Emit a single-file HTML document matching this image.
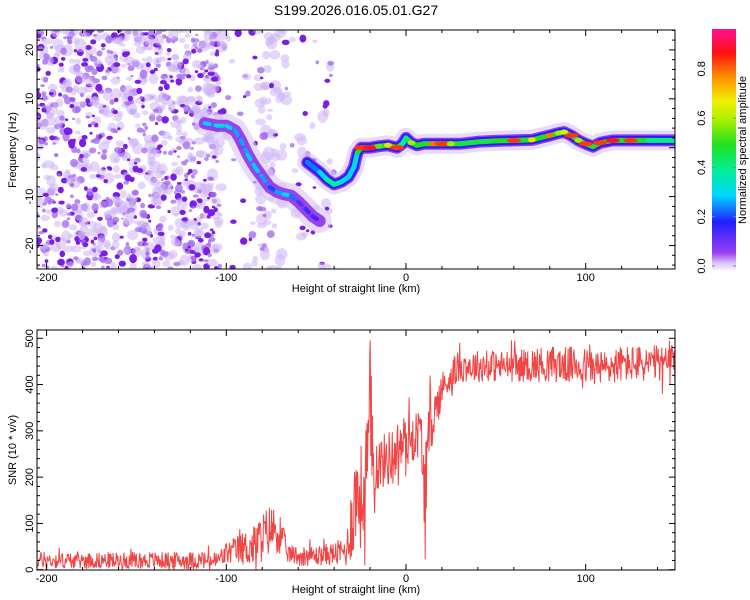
<!DOCTYPE html>
<html><head><meta charset="utf-8">
<style>
html,body{margin:0;padding:0;background:#fff;}
svg{display:block;font-family:"Liberation Sans",sans-serif;}
</style></head>
<body>
<svg id="chart" width="750" height="600" viewBox="0 0 750 600">
<defs>
<clipPath id="clipTop"><rect x="37" y="30" width="638" height="239"/></clipPath>
<clipPath id="clipBot"><rect x="37" y="330" width="638" height="240"/></clipPath>
<linearGradient id="cbGrad" x1="0" y1="1" x2="0" y2="0">
<stop offset="0" stop-color="#f6f0fd"/><stop offset="0.03" stop-color="#d8c0f8"/>
<stop offset="0.07" stop-color="#9a40f0"/><stop offset="0.2" stop-color="#2020ff"/>
<stop offset="0.31" stop-color="#00d8ff"/><stop offset="0.42" stop-color="#00f090"/>
<stop offset="0.52" stop-color="#20e020"/><stop offset="0.62" stop-color="#a8f000"/>
<stop offset="0.7" stop-color="#f0f000"/><stop offset="0.8" stop-color="#ff9000"/>
<stop offset="0.9" stop-color="#ff1010"/><stop offset="1" stop-color="#ff1090"/>
</linearGradient>
</defs>
<text x="356" y="15" font-size="14" text-anchor="middle" fill="#000">S199.2026.016.05.01.G27</text>
<g id="topPlot">
<g id="noise" clip-path="url(#clipTop)"></g>
<g id="ridge" clip-path="url(#clipTop)"></g>
<g id="topAxes"></g>
<rect x="37" y="30" width="638" height="239" fill="none" stroke="#000" stroke-width="1"/>
<text x="0" y="0" transform="translate(16,150) rotate(-90)" font-size="11" text-anchor="middle">Frequency (Hz)</text>
<text x="356" y="292" font-size="11" text-anchor="middle">Height of straight line (km)</text>
</g>
<g id="botPlot">
<g id="snrLine" clip-path="url(#clipBot)"></g>
<g id="botAxes"></g>
<rect x="37" y="330" width="638" height="240" fill="none" stroke="#000" stroke-width="1"/>
<text x="0" y="0" transform="translate(16,450) rotate(-90)" font-size="11" text-anchor="middle">SNR (10 * v/v)</text>
<text x="356" y="593" font-size="11" text-anchor="middle">Height of straight line (km)</text>
</g>
<g id="colorbar">
<rect x="712" y="29" width="24" height="241" fill="url(#cbGrad)"/>
<g id="cbTicks"></g>
<text x="0" y="0" transform="translate(746,150) rotate(-90)" font-size="11" text-anchor="middle">Normalized spectral amplitude</text>
</g>
</svg>
<script>
// ---- data ----
const ridgeAKm  = [-112,-105,-100,-95,-92,-88,-84,-80,-76,-72,-68,-64,-60,-56,-52,-48];
const ridgeAHz  = [5,4.5,4.5,3.5,1.6,-1.5,-4,-6,-8,-9,-9.5,-9.8,-11,-12.5,-14,-15];
const ridgeAAmp = [0.25,0.3,0.3,0.3,0.2,0.3,0.25,0.3,0.2,0.2,0.3,0.3,0.15,0.1,0.2,0.1];
const ridgeBKm  = [-55,-48,-44,-40,-36,-32,-29,-27,-25,-20,-15,-10,-5,-2,0,3,6,10,15,20,25,30,40,50,60,70,80,85,88,92,96,100,104,108,115,125,135,150];
const ridgeBHz  = [-3,-5,-6.5,-7.5,-7,-6,-4,-1,0,0,0.3,0.5,0,0.8,2,1,0.5,0.8,0.8,0.8,0.8,0.8,1.2,1.4,1.5,1.6,2.5,3,3.2,2.5,1.5,0.8,0.2,1,1.5,1.5,1.5,1.5];
const ridgeBAmp = [0.2,0.3,0.35,0.45,0.35,0.35,0.3,0.35,0.85,0.9,0.55,0.7,0.85,0.5,0.3,0.6,0.5,0.5,0.8,0.85,0.6,0.5,0.45,0.5,0.85,0.7,0.8,0.6,0.65,0.85,0.6,0.85,0.5,0.85,0.9,0.85,0.45,0.4];
const snrKm     = [-205,-150,-105,-100,-92,-85,-80,-75,-70,-66,-60,-50,-40,-33,-30,-27,-24,-21,-20,-19,-18,-15,-10,-5,0,5,8,11,13,16,20,25,30,40,60,80,100,110,120,150];
const snrMean   = [20,20,20,35,45,50,70,90,80,35,30,30,35,40,120,170,150,250,330,250,230,230,240,260,280,290,300,150,310,340,390,420,440,440,440,445,440,435,445,445];
const snrSpread = [18,18,20,25,35,45,55,55,45,20,22,22,25,35,100,110,120,140,190,140,70,60,60,60,60,50,60,110,70,50,40,35,35,35,35,40,40,40,40,40];
const xTicks    = [-200,-100,0,100];
const fTicks    = [-20,-10,0,10,20];
const snrTicks  = [0,100,200,300,400,500];
const cbTicks   = [0.0,0.2,0.4,0.6,0.8];

// ---- scales ----
const NS='http://www.w3.org/2000/svg';
const xs = v => 406 + v*1.797;
const yf = f => 147.7 - f*4.89;
const ys = v => 569.7 - v*0.4628;
const yc = a => 266 - a*246.5;
function mk(tag, attrs, parent){const e=document.createElementNS(NS,tag);for(const k in attrs)e.setAttribute(k,attrs[k]);parent.appendChild(e);return e;}
let seed=12345;function rnd(){seed=(seed*1103515245+12345)%2147483648;return seed/2147483648;}
const stops=[[0,[246,240,253]],[0.05,[200,168,244]],[0.1,[138,48,240]],[0.2,[32,32,255]],[0.3,[0,208,255]],[0.4,[0,240,160]],[0.5,[32,224,32]],[0.6,[160,240,0]],[0.68,[240,240,0]],[0.78,[255,144,0]],[0.88,[255,16,16]],[1,[255,16,144]]];
function cmap(a){for(let i=1;i<stops.length;i++){if(a<=stops[i][0]){const t=(a-stops[i-1][0])/(stops[i][0]-stops[i-1][0]);const c=stops[i-1][1].map((v,j)=>Math.round(v+(stops[i][1][j]-v)*t));return 'rgb('+c.join(',')+')';}}return 'rgb(255,16,144)';}

// ---- noise speckle (texture) ----
const noise=document.getElementById('noise');
function blob(x0,x1,n,dark,light){for(let i=0;i<n;i++){const km=x0+rnd()*(x1-x0);const f=-25+rnd()*50;const r=rnd();let col,rx;
 if(r<light){col='rgba(205,180,248,0.55)';rx=2.5+rnd()*3.5;}else if(r<1-dark){col='rgba(165,110,240,0.8)';rx=1.5+rnd()*2.5;}else{col='#7a1ee6';rx=1.5+rnd()*2.5;}
 const e=mk('ellipse',{cx:xs(km).toFixed(1),cy:yf(f).toFixed(1),rx:rx.toFixed(1),ry:(rx*(0.6+rnd()*0.6)).toFixed(1),fill:col},noise);
 
 }}
blob(-206,-104,1100,0.25,0.45);
blob(-82,-66,60,0.0,0.9);
blob(-104,-40,110,0.25,0.45);

// ---- ridge ----
const ridge=document.getElementById('ridge');
function drawRidge(km,hz,amp,name,weak){
 const pts=km.map((k,i)=>xs(k).toFixed(1)+','+yf(hz[i]).toFixed(1)).join(' ');
 const layers=weak?[['rgba(215,195,248,0.6)',24],['rgba(140,50,235,0.9)',12]]:[['rgba(215,195,248,0.6)',20],['rgba(140,50,235,0.95)',12],['#2a18ff',9]];
 layers.forEach(l=>{const p=mk('polyline',{points:pts,fill:'none',stroke:l[0],'stroke-width':l[1],'stroke-linejoin':'round','stroke-linecap':'round'},ridge);
  
  });
 for(let i=0;i<km.length-1;i++){const a=(amp[i]+amp[i+1])/2;
  const s=mk('line',{x1:xs(km[i]),y1:yf(hz[i]),x2:xs(km[i+1]),y2:yf(hz[i+1]),stroke:cmap(weak?a*1.1:Math.min(a,0.5)),'stroke-width':weak?4:5,'stroke-linecap':'round','stroke-dasharray':weak?'5 6':'none'},ridge);
  
  }
 for(let i=0;i<km.length;i++){if(amp[i]>=0.55){const c=mk('ellipse',{cx:xs(km[i]),cy:yf(hz[i]),rx:amp[i]>0.8?7:4,ry:2.5,fill:cmap(amp[i])},ridge);
  
  }}
}
drawRidge(ridgeAKm,ridgeAHz,ridgeAAmp,'ridge-a',true);
drawRidge(ridgeBKm,ridgeBHz,ridgeBAmp,'ridge-b',false);

// ---- SNR series ----
function interp(arr,k){for(let i=1;i<snrKm.length;i++){if(k<=snrKm[i]){const t=(k-snrKm[i-1])/(snrKm[i]-snrKm[i-1]);return arr[i-1]+(arr[i]-arr[i-1])*t;}}return arr[arr.length-1];}
let d='';seed=777;
for(let k=-205;k<=150;k+=0.3){const m=interp(snrMean,k),s=interp(snrSpread,k);let u=(rnd()-0.5)*2;if(rnd()<0.08)u*=1.7;let v=m+s*u;v=Math.max(0,v);
 d+=(d?'L':'M')+xs(k).toFixed(1)+','+ys(v).toFixed(1);}
const line=mk('path',{d:d,fill:'none',stroke:'#f03030','stroke-width':1,'stroke-opacity':0.9},document.getElementById('snrLine'));



// ---- axes ----
function axes(gid,y0,y1,yscale,yMaj,yMinStep,yMin,yMax,labelY){
 const g=document.getElementById(gid);
 for(let k=-200;k<=140;k+=20){const x=xs(k);const L=(k%100===0)?6:3;
  mk('line',{x1:x,y1:y1,x2:x,y2:y1-L,stroke:'#000'},g);mk('line',{x1:x,y1:y0,x2:x,y2:y0+L,stroke:'#000'},g);}
 xTicks.forEach(k=>{const t=mk('text',{x:xs(k),y:labelY,'font-size':11,'text-anchor':'middle'},g);t.textContent=String(k);
  
  });
 for(let v=yMin;v<=yMax;v+=yMinStep){const y=yscale(v);if(y<y0-0.5||y>y1+0.5)continue;const L=(yMaj.includes(v))?6:3;
  mk('line',{x1:37,y1:y,x2:37+L,y2:y,stroke:'#000'},g);mk('line',{x1:675,y1:y,x2:675-L,y2:y,stroke:'#000'},g);}
 yMaj.forEach(v=>{const t=mk('text',{x:0,y:0,transform:'translate('+33+','+yscale(v)+') rotate(-90)','font-size':11,'text-anchor':'middle'},g);t.textContent=String(v);
  
  });
}
axes('topAxes',30,269,yf,fTicks,2,-24,24,281);
axes('botAxes',330,570,ys,snrTicks,20,0,520,582);

// colorbar ticks
const cbg=document.getElementById('cbTicks');
cbTicks.forEach(a=>{const y=yc(a);mk('line',{x1:712,y1:y,x2:715,y2:y,stroke:'#888'},cbg);mk('line',{x1:733,y1:y,x2:736,y2:y,stroke:'#888'},cbg);
 const t=mk('text',{x:0,y:0,transform:'translate(705,'+y+') rotate(-90)','font-size':11,'text-anchor':'middle'},cbg);t.textContent=a.toFixed(1);
 
 });
</script>
</body></html>
